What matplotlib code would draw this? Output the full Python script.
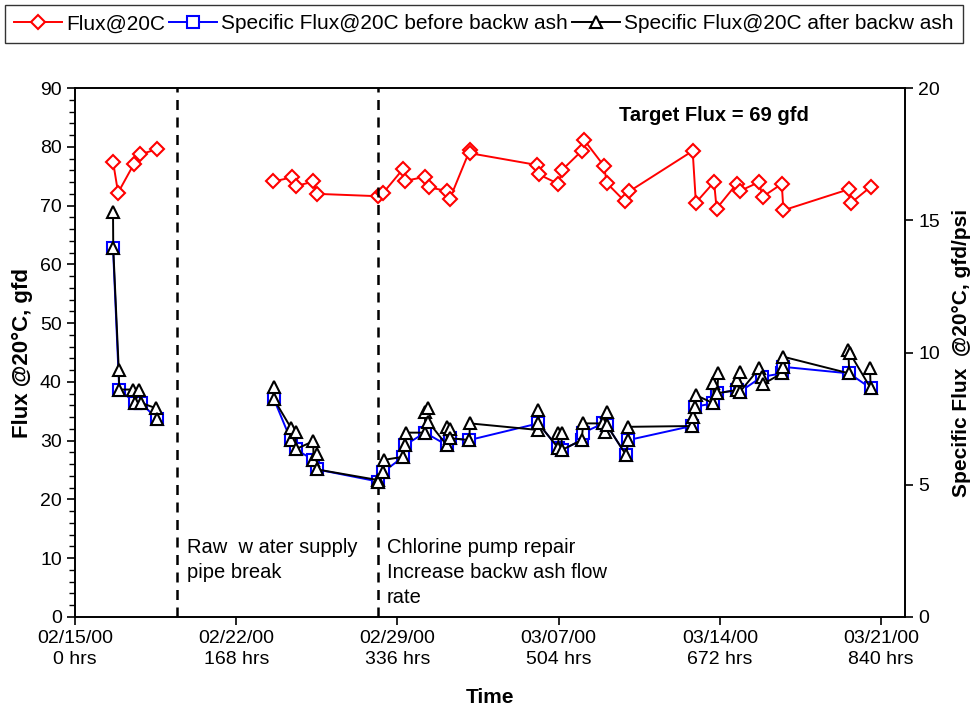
"""Flux and specific flux vs time, with two event markers (dual y axes)."""

import matplotlib
matplotlib.use("Agg")
import matplotlib.pyplot as plt
from matplotlib.ticker import MultipleLocator

plt.rcParams["font.family"] = ["Liberation Sans", "DejaVu Sans"]

# time is in days from 02/15/00 00:00
FLUX_T = [1.65, 1.87, 2.56, 2.82, 3.56, None,
          8.61, 9.41, 9.58, 10.35, 10.50, 13.14, 13.39, 14.26, 14.33, 15.20, 15.37,
          16.14, 16.28, 17.15, 17.17, 20.07, 20.14, 20.99, 21.16, 22.00, 22.10,
          22.96, 23.10, 23.88, 24.06, 26.82, 26.96, 27.75, 27.86, 28.73, 28.88,
          29.70, 29.86, 30.69, 30.76, 33.62, 33.68, 34.55]
FLUX = [77.5, 72.2, 77.1, 78.7, 79.6, None,
        74.1, 74.8, 73.3, 74.1, 72.0, 71.6, 72.2, 76.3, 74.2, 74.9, 73.1,
        72.5, 71.2, 79.5, 78.9, 76.9, 75.3, 73.7, 76.1, 79.3, 81.2,
        76.8, 73.8, 70.7, 72.4, 79.3, 70.5, 74.0, 69.5, 73.7, 72.5,
        74.0, 71.5, 73.7, 69.2, 72.8, 70.4, 73.2]

BEFORE_T = [1.65, 1.92, 2.60, 2.85, 3.55, None,
            8.64, 9.37, 9.58, 10.35, 10.50, 13.17, 13.39, 14.26, 14.33, 15.20,
            16.14, 16.28, 17.12, 20.12, 20.99, 21.13, 22.00, 22.07, 22.94, 23.09,
            23.93, 24.03, 26.78, 26.92, 27.72, 27.89, 28.73, 28.88, 29.82, 30.69,
            30.73, 33.62, 34.55]
BEFORE = [13.95, 8.6, 8.1, 8.1, 7.5, None,
          8.23, 6.69, 6.34, 5.94, 5.58, 5.12, 5.49, 6.06, 6.50, 6.97,
          6.50, 6.76, 6.69, 7.32, 6.38, 6.31, 6.69, 6.97, 7.32, 7.26,
          6.12, 6.69, 7.22, 7.95, 8.08, 8.46, 8.58, 8.52, 9.08, 9.21,
          9.46, 9.21, 8.65]

AFTER_T = [1.65, 1.66, 1.90, 1.92, 2.50, 2.60, 2.80, 2.85, 3.50, 3.55, None,
           8.64, 8.64, 9.37, 9.37, 9.58, 9.58, 10.35, 10.35, 10.50, 10.50, 13.14,
           13.17, 13.39, 13.42, 14.26, 14.33, 14.36, 15.20, 15.20, 15.34, 15.34,
           16.14, 16.14, 16.28, 16.28, 17.12, 17.15, 20.12, 20.12, 20.12, 20.99,
           20.99, 21.13, 21.13, 22.00, 22.07, 22.94, 23.01, 23.09, 23.09, 23.93,
           24.03, 24.03, 26.78, 26.82, 26.92, 26.96, 27.72, 27.72, 27.93, 27.89,
           28.73, 28.73, 28.88, 28.88, 29.71, 29.82, 29.86, 30.69, 30.73, 30.76,
           33.62, 33.58, 33.65, 34.55, 34.52]
AFTER = [15.31, 13.95, 9.34, 8.6, 8.6, 8.1, 8.6, 8.1, 7.9, 7.5, None,
         8.68, 8.23, 7.16, 6.69, 7.01, 6.34, 6.65, 5.94, 6.15, 5.58, 5.18,
         5.12, 5.49, 5.94, 6.06, 6.50, 6.97, 6.97, 7.76, 7.89, 7.38,
         6.50, 7.19, 7.10, 6.76, 6.69, 7.32, 7.07, 7.83, 7.32, 6.38,
         6.95, 6.95, 6.31, 6.69, 7.32, 7.32, 7.01, 7.76, 7.26, 6.12,
         6.69, 7.19, 7.22, 7.57, 7.95, 8.39, 8.08, 8.86, 9.21, 8.46,
         8.58, 8.96, 9.27, 8.52, 9.40, 9.08, 8.80, 9.21, 9.46, 9.84,
         9.21, 10.09, 9.97, 8.65, 9.40]

EVENT_DAYS = [4.43, 13.16]
TICK_DAYS = [0, 7, 14, 21, 28, 35]
TICK_LABELS = ["02/15/00\n0 hrs", "02/22/00\n168 hrs", "02/29/00\n336 hrs",
               "03/07/00\n504 hrs", "03/14/00\n672 hrs", "03/21/00\n840 hrs"]


def _nan(vals):
    return [float("nan") if v is None else v for v in vals]


fig = plt.figure(figsize=(9.73, 7.09), dpi=100)
ax = fig.add_axes([0.0771, 0.1298, 0.853, 0.746])
ax2 = ax.twinx()

l1, = ax.plot(_nan(FLUX_T), _nan(FLUX), color="red", lw=1.4, marker="D", ms=7,
              mfc="white", mec="red", mew=1.5, label="Flux@20C")
l2, = ax2.plot(_nan(BEFORE_T), _nan(BEFORE), color="blue", lw=1.4, marker="s", ms=8,
               mfc="white", mec="blue", mew=1.5,
               label="Specific Flux@20C before backw ash")
l3, = ax2.plot(_nan(AFTER_T), _nan(AFTER), color="black", lw=1.4, marker="^", ms=9,
               mfc="white", mec="black", mew=1.5,
               label="Specific Flux@20C after backw ash")

for d in EVENT_DAYS:
    ax.axvline(d, color="black", ls=(0, (4, 3)), lw=1.8)

ax.set_xlim(0, 36.04)
ax.set_ylim(0, 90)
ax2.set_ylim(0, 20)
ax.yaxis.set_major_locator(MultipleLocator(10))
ax.yaxis.set_minor_locator(MultipleLocator(2))
ax2.yaxis.set_major_locator(MultipleLocator(5))
ax.set_xticks(TICK_DAYS)
ax.set_xticklabels(TICK_LABELS, linespacing=1.3)
ax.tick_params(axis="both", labelsize=14, direction="out", length=6, width=1.2)
ax.tick_params(axis="y", which="minor", direction="out", length=4, width=1)
ax2.tick_params(axis="y", labelsize=14, direction="out", length=6, width=1.2)
for a in (ax, ax2):
    for s in a.spines.values():
        s.set_linewidth(1.2)

ax.set_ylabel("Flux @20°C, gfd", fontsize=16, fontweight="bold", labelpad=5)
ax2.set_ylabel("Specific Flux  @20°C, gfd/psi", fontsize=15, fontweight="bold", labelpad=9)
ax.set_xlabel("Time", fontsize=15, fontweight="bold", labelpad=14)

ax.text(4.85, 9.7, "Raw  w ater supply\npipe break", fontsize=14.5, va="center",
        linespacing=1.4)
ax.text(13.55, 7.5, "Chlorine pump repair\nIncrease backw ash flow\nrate",
        fontsize=14.5, va="center", linespacing=1.4)
ax.text(23.6, 85.3, "Target Flux = 69 gfd", fontsize=14.5, fontweight="bold",
        va="center")

leg = fig.legend(handles=[l1, l2, l3], loc="upper center", ncol=3,
                 bbox_to_anchor=(0.4974, 0.993), fontsize=15, frameon=True,
                 fancybox=False, edgecolor="black", handlelength=2.3,
                 handletextpad=0.2, columnspacing=0.2, borderpad=0.45,
                 borderaxespad=0)
leg.get_frame().set_linewidth(1)

fig.savefig("out.png", dpi=100)
